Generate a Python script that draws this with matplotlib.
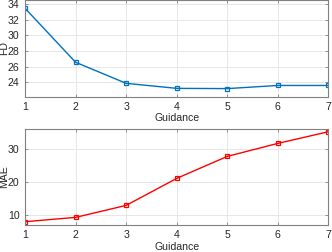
import matplotlib
matplotlib.use('Agg')
import matplotlib.pyplot as plt

guidance = [1, 2, 3, 4, 5, 6, 7]
fd_vals = [33.45, 26.56, 23.87, 23.23, 23.2, 23.6, 23.6]
mae_vals = [8.1, 9.4, 13.0, 21.1, 27.7, 31.6, 35.1]

fd_ticks = [24, 26, 28, 30, 32, 34]
mae_ticks = [10, 20, 30]

plt.rcParams['font.family'] = ['Liberation Sans', 'DejaVu Sans']
plt.rcParams['font.size'] = 7.6

fig = plt.figure(figsize=(3.32, 2.52), dpi=100)
ax1 = fig.add_axes([0.0753, 0.617, 0.914, 0.382])
ax2 = fig.add_axes([0.0753, 0.108, 0.914, 0.382])

def style(ax):
    ax.grid(True, color='#e3e3e3', linewidth=0.6)
    ax.set_axisbelow(True)
    for s in ax.spines.values():
        s.set_color('#808080')
        s.set_linewidth(0.8)
    ax.tick_params(direction='in', length=2, width=0.6, color='#808080',
                   labelcolor='#262626', top=True, right=True, pad=4)
    ax.set_xlim(1, 7)
    ax.set_xticks(guidance)
    ax.set_xlabel('Guidance', color='#262626', labelpad=1)
    # ylabel sits right against the figure edge, like the original
    ax.yaxis.set_label_coords(-0.053, 0.5)

ax1.plot(guidance, fd_vals, color='#0072BD', linewidth=1, marker='s',
         markersize=3.5, markerfacecolor='none', markeredgewidth=0.9)
ax1.set_ylim(22.19, 34.47)
ax1.set_yticks(fd_ticks)
ax1.set_ylabel('FD', color='#262626')
style(ax1)

ax2.plot(guidance, mae_vals, color='red', linewidth=1, marker='s',
         markersize=3.5, markerfacecolor='none', markeredgewidth=0.9)
ax2.set_ylim(7.18, 36.06)
ax2.set_yticks(mae_ticks)
ax2.set_ylabel('MAE', color='#262626')
style(ax2)

fig.savefig('out.png', dpi=100)
